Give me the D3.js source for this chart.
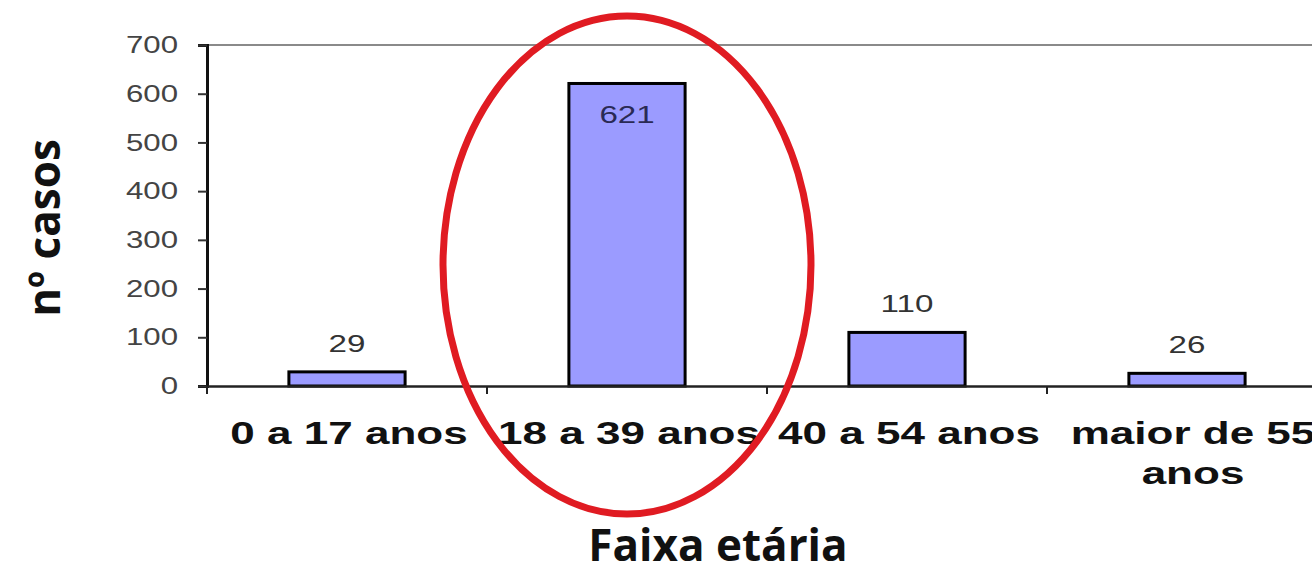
<!DOCTYPE html>
<html>
<head>
<meta charset="utf-8">
<script src="https://cdn.jsdelivr.net/npm/d3@7"></script>
<style>
  body { margin: 0; background: #fff; overflow: hidden; }
  svg { display: block; }
  .tick text { font-family: "Liberation Sans", Arial, sans-serif; }
</style>
</head>
<body>
<div id="chart"></div>
<script>
const width = 1312;
const height = 564;

const categories = ["0 a 17 anos", "18 a 39 anos", "40 a 54 anos", "maior de 55 anos"];
const values = [29, 621, 110, 26];
const yTicks = [0, 100, 200, 300, 400, 500, 600, 700];
const highlighted = "18 a 39 anos";

const margin = { left: 207, top: 45, bottom: 178 };
const plotRight = 207 + 4 * 280;
// the source picture is stretched sideways, so the Arial-like texts are too
const stretch = 1.38;

const svg = d3
  .select("#chart")
  .append("svg")
  .attr("width", width)
  .attr("height", height)
  .attr("viewBox", `0 0 ${width} ${height}`);

const x = d3
  .scaleBand()
  .domain(categories)
  .range([margin.left, plotRight])
  .paddingInner(0.585)
  .paddingOuter(0.2925);

const y = d3
  .scaleLinear()
  .domain([0, 700])
  .range([height - margin.bottom, margin.top]);

// top border of plot area
svg
  .append("line")
  .attr("x1", margin.left)
  .attr("x2", plotRight)
  .attr("y1", y(700))
  .attr("y2", y(700))
  .attr("stroke", "#8a8a8a")
  .attr("stroke-width", 2);

// bars
svg
  .selectAll(".bar")
  .data(categories)
  .enter()
  .append("rect")
  .attr("class", "bar")
  .attr("x", (d) => x(d))
  .attr("width", x.bandwidth())
  .attr("y", (d, i) => y(values[i]))
  .attr("height", (d, i) => y(0) - y(values[i]))
  .attr("fill", "#9b9bff")
  .attr("stroke", "#000")
  .attr("stroke-width", 3);

// value labels (inside the bar when it is tall)
svg
  .selectAll(".val")
  .data(categories)
  .enter()
  .append("text")
  .attr("class", "val")
  .attr("transform", (d, i) => {
    const cx = x(d) + x.bandwidth() / 2;
    const cy = values[i] > 500 ? y(values[i]) + 40 : y(values[i]) - 20;
    return `translate(${cx},${cy}) scale(${stretch},1)`;
  })
  .attr("text-anchor", "middle")
  .attr("font-family", "Liberation Sans, Arial, sans-serif")
  .attr("font-size", 24)
  .attr("fill", (d, i) => (values[i] > 500 ? "#2a2a55" : "#333"))
  .text((d, i) => values[i]);

// y axis
const yAxis = svg
  .append("g")
  .attr("transform", `translate(${margin.left},0)`)
  .call(d3.axisLeft(y).tickValues(yTicks).tickSize(9));
yAxis.select(".domain").attr("stroke", "#111").attr("stroke-width", 3);
yAxis.selectAll(".tick line").attr("stroke", "#333").attr("stroke-width", 2);
yAxis
  .selectAll(".tick text")
  .attr("x", 0)
  .attr("transform", `translate(-29,0) scale(${stretch - 0.08},1)`)
  .attr("font-size", 24)
  .attr("fill", "#444");

// x axis
const xAxis = svg
  .append("g")
  .attr("transform", `translate(0,${y(0)})`)
  .call(d3.axisBottom(x).tickSize(0).tickFormat(""));
xAxis.select(".domain").attr("stroke", "#222").attr("stroke-width", 2.5);

// category separators
const step = x.step();
svg
  .selectAll(".sep")
  .data(categories)
  .enter()
  .append("line")
  .attr("class", "sep")
  .attr("x1", (d) => x(d) - x.paddingOuter() * step)
  .attr("x2", (d) => x(d) - x.paddingOuter() * step)
  .attr("y1", y(0))
  .attr("y2", y(0) + 8)
  .attr("stroke", "#222")
  .attr("stroke-width", 2);

// category labels
const catLabels = svg
  .selectAll(".cat")
  .data(categories)
  .enter()
  .append("text")
  .attr("class", "cat")
  .attr("transform", (d) => {
    const shift = d === "maior de 55 anos" ? 6 : 2;
    return `translate(${x(d) + x.bandwidth() / 2 + shift},${y(0) + 58}) scale(${stretch + 0.04},1)`;
  })
  .attr("text-anchor", "middle")
  .attr("font-family", "Liberation Sans, Arial, sans-serif")
  .attr("font-weight", "bold")
  .attr("font-size", 31)
  .attr("fill", "#111");

catLabels.each(function (d) {
  const t = d3.select(this);
  if (d === "maior de 55 anos") {
    t.append("tspan").attr("x", 0).text("maior de 55");
    t.append("tspan").attr("x", 0).attr("dy", 40).text("anos");
  } else {
    t.text(d);
  }
});

// axis titles
svg
  .append("text")
  .attr("x", 718)
  .attr("y", 561)
  .attr("text-anchor", "middle")
  .attr("font-family", "Open Sans, Noto Sans, sans-serif")
  .attr("font-weight", "bold")
  .attr("font-size", 44)
  .attr("fill", "#111")
  .text("Faixa etária");

svg
  .append("text")
  .attr("transform", "translate(60,228) rotate(-90)")
  .attr("text-anchor", "middle")
  .attr("font-family", "Open Sans, Noto Sans, sans-serif")
  .attr("font-weight", "bold")
  .attr("font-size", 44)
  .attr("fill", "#111")
  .text("nº casos");

// red highlight ellipse around the largest group
svg
  .append("ellipse")
  .attr("cx", x(highlighted) + x.bandwidth() / 2)
  .attr("cy", 265)
  .attr("rx", 184)
  .attr("ry", 249)
  .attr("fill", "none")
  .attr("stroke", "#e01b22")
  .attr("stroke-width", 7);
</script>
</body>
</html>
